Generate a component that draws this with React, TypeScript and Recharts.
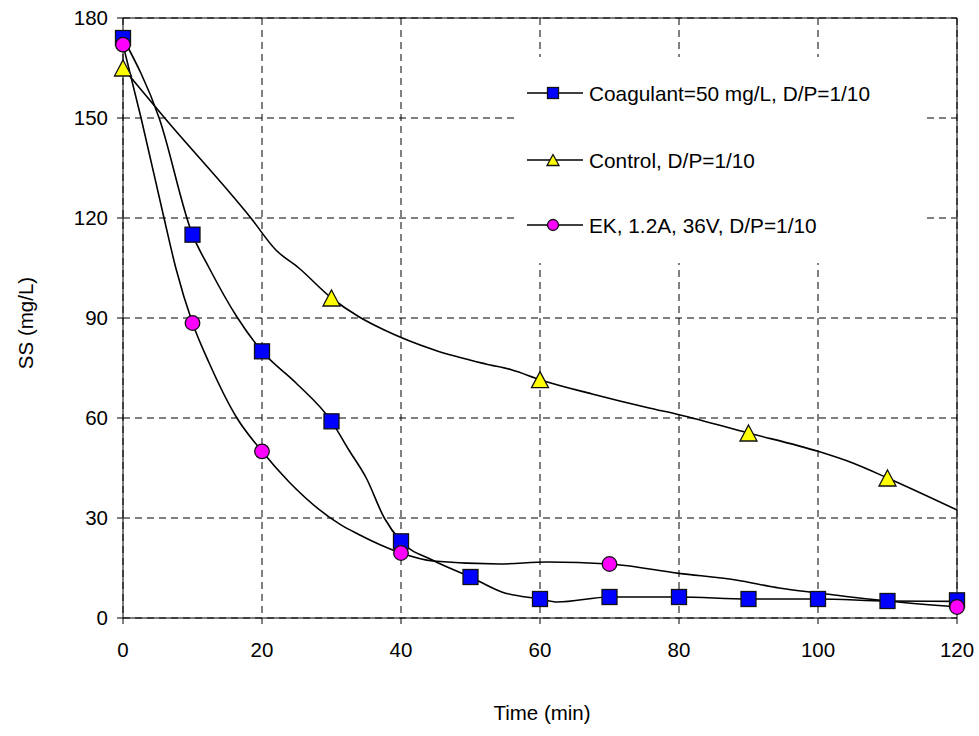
import { ComposedChart, Line, XAxis, YAxis, CartesianGrid, ReferenceLine } from "recharts";

// measured points (markers)
const coagTime = [0, 10, 20, 30, 40, 50, 60, 70, 80, 90, 100, 110, 120];
const coagSS = [174, 115, 80, 59, 23, 12.3, 5.7, 6.3, 6.3, 5.7, 5.7, 5.1, 5.3];

const controlTime = [0, 30, 60, 90, 110];
const controlSS = [165, 96, 71.5, 55.5, 42];

const ekTime = [0, 10, 20, 40, 70, 120];
const ekSS = [172, 88.5, 50, 19.5, 16.2, 3.3];

// smoothed curves
const coagCurveTime = [0, 5.2, 10, 12.4, 16.4, 20, 24.9, 30, 32.5, 35, 37.6, 40, 44.5, 50, 54.5, 60, 62.5, 70, 80, 90, 100, 110, 120];
const coagCurveSS = [174, 150, 115, 105, 90.3, 80, 70.5, 59, 50.4, 42, 30, 23, 17.4, 12.3, 7.8, 5.7, 4.8, 6.3, 6.3, 5.7, 5.7, 5.1, 5.0];

const controlCurveTime = [0, 6, 18.4, 22, 25.3, 30, 34, 37.6, 44.8, 52.2, 56, 60, 67.5, 75.7, 80, 90, 100, 105, 110, 120];
const controlCurveSS = [165, 150, 120, 110.4, 105, 96, 90.3, 86.4, 80.4, 76.2, 74.4, 71.5, 67.2, 63, 61, 55.5, 50, 46.5, 42, 32.4];

const ekCurveTime = [0, 2.6, 5.9, 7.6, 10, 12.4, 16.3, 20, 23.9, 31.3, 34, 37, 40, 44.6, 54.2, 61, 70, 80, 88.2, 94.4, 100, 110, 120];
const ekCurveSS = [172, 150, 120, 105, 88.5, 76.5, 60.3, 50, 40.8, 28, 25, 22, 19.5, 17.1, 16.2, 16.8, 16.2, 13.4, 11.4, 9, 7.5, 5.1, 3.3];

const xTicks = [0, 20, 40, 60, 80, 100, 120];
const yTicks = [0, 30, 60, 90, 120, 150, 180];

const legendLabels = ["Coagulant=50 mg/L, D/P=1/10", "Control, D/P=1/10", "EK, 1.2A, 36V, D/P=1/10"];

const pairs = (ts: number[], vs: number[]) => ts.map((t, i) => ({ t, v: vs[i] }));

const FONT = "'Liberation Sans', Arial, sans-serif";

const Square = ({ cx, cy, s = 15 }: any) => (
  <rect x={cx - s / 2} y={cy - s / 2} width={s} height={s} fill="#0000ff" stroke="#111" strokeWidth={1.3} />
);
const Triangle = ({ cx, cy, w = 17, h = 16 }: any) => (
  <polygon
    points={`${cx},${cy - h / 2} ${cx + w / 2},${cy + h / 2} ${cx - w / 2},${cy + h / 2}`}
    fill="#ffff00"
    stroke="#111"
    strokeWidth={1.3}
  />
);
const Circle = ({ cx, cy, r = 7.3 }: any) => <circle cx={cx} cy={cy} r={r} fill="#ff00ff" stroke="#111" strokeWidth={1.3} />;

const dotSquare = (p: any) => <Square key={`sq-${p.index}`} cx={p.cx} cy={p.cy} />;
const dotTriangle = (p: any) => <Triangle key={`tr-${p.index}`} cx={p.cx} cy={p.cy} />;
const dotCircle = (p: any) => <Circle key={`ci-${p.index}`} cx={p.cx} cy={p.cy} />;

function LegendBox() {
  const rows = [
    { label: legendLabels[0], y: 36, mark: <Square cx={39} cy={36} s={11} /> },
    { label: legendLabels[1], y: 103, mark: <Triangle cx={39} cy={103} w={12} h={11} /> },
    { label: legendLabels[2], y: 168, mark: <Circle cx={39} cy={168} r={5.5} /> },
  ];
  return (
    <div style={{ position: "absolute", left: 514, top: 57, width: 409, height: 206, background: "#fff" }}>
      <svg width={409} height={206}>
        {rows.map((r) => (
          <g key={r.label}>
            <line x1={13} x2={69} y1={r.y} y2={r.y} stroke="#000" strokeWidth={1.5} />
            {r.mark}
            <text x={75} y={r.y} dominantBaseline="central" fontFamily={FONT} fontSize={20.8} fill="#000">
              {r.label}
            </text>
          </g>
        ))}
      </svg>
    </div>
  );
}

export default function App() {
  return (
    <div style={{ position: "relative", width: 979, height: 736, background: "#fff" }}>
      <style>{`body{margin:0}`}</style>
      <ComposedChart width={979} height={736} margin={{ top: 18, right: 22, bottom: 38, left: 0 }}>
        <CartesianGrid stroke="#000" strokeDasharray="7 5" />
        <XAxis
          dataKey="t"
          type="number"
          domain={[0, 120]}
          ticks={xTicks}
          height={80}
          tickMargin={18}
          tick={{ fill: "#000", fontSize: 20.5, fontFamily: FONT }}
          axisLine={{ stroke: "#000" }}
          tickLine={{ stroke: "#000" }}
          label={() => (
            <text x={542} y={720} textAnchor="middle" fontFamily={FONT} fontSize={20.5} fill="#000">
              Time (min)
            </text>
          )}
        />
        <YAxis
          type="number"
          domain={[0, 180]}
          ticks={yTicks}
          width={123}
          tickMargin={9}
          tick={{ fill: "#000", fontSize: 20.5, fontFamily: FONT }}
          axisLine={{ stroke: "#000" }}
          tickLine={{ stroke: "#000" }}
          label={() => (
            <text
              x={25}
              y={323}
              textAnchor="middle"
              dominantBaseline="central"
              transform="rotate(-90 25 323)"
              fontFamily={FONT}
              fontSize={20.5}
              fill="#000"
            >
              SS (mg/L)
            </text>
          )}
        />
        <ReferenceLine y={180} stroke="#000" />
        <ReferenceLine x={120} stroke="#000" />

        <Line data={pairs(controlCurveTime, controlCurveSS)} dataKey="v" type="monotone" stroke="#000" strokeWidth={1.6} dot={false} isAnimationActive={false} />
        <Line data={pairs(coagCurveTime, coagCurveSS)} dataKey="v" type="monotone" stroke="#000" strokeWidth={1.6} dot={false} isAnimationActive={false} />
        <Line data={pairs(ekCurveTime, ekCurveSS)} dataKey="v" type="monotone" stroke="#000" strokeWidth={1.6} dot={false} isAnimationActive={false} />

        <Line data={pairs(coagTime, coagSS)} dataKey="v" stroke="none" dot={dotSquare} activeDot={false} isAnimationActive={false} />
        <Line data={pairs(controlTime, controlSS)} dataKey="v" stroke="none" dot={dotTriangle} activeDot={false} isAnimationActive={false} />
        <Line data={pairs(ekTime, ekSS)} dataKey="v" stroke="none" dot={dotCircle} activeDot={false} isAnimationActive={false} />
      </ComposedChart>
      <LegendBox />
    </div>
  );
}
